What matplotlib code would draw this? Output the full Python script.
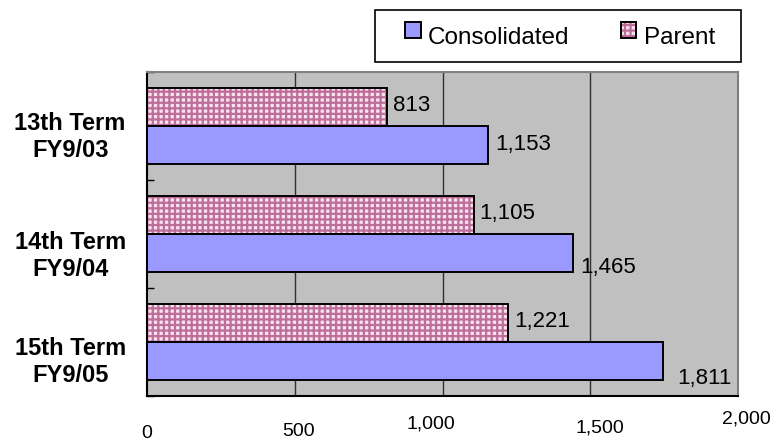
import numpy as np
import matplotlib
matplotlib.use("Agg")
import matplotlib.pyplot as plt
from matplotlib.patches import Rectangle
from matplotlib.legend_handler import HandlerPatch
from matplotlib.transforms import ScaledTranslation, blended_transform_factory

plt.rcParams['font.family'] = ['Liberation Sans', 'DejaVu Sans']
plt.rcParams['hatch.linewidth'] = 1.6

# data
categories = ["13th Term\nFY9/03", "14th Term\nFY9/04", "15th Term\nFY9/05"]
consolidated = [1153, 1440, 1746]
parent = [813, 1105, 1221]
consolidated_labels = ["1,153", "1,465", "1,811"]
parent_labels = ["813", "1,105", "1,221"]
x_ticks = [0, 500, 1000, 1500, 2000]
x_tick_labels = ["0", "500", "1,000", "1,500", "2,000"]

W, H = 773, 443
fig = plt.figure(figsize=(W / 100, H / 100), dpi=100)
ax = fig.add_axes([147 / W, 1 - 396 / H, (738 - 147) / W, (396 - 72) / H])
ax.set_facecolor('#c0c0c0')

y = np.arange(len(categories))
h = 0.35
bars_p = ax.barh(y - h / 2, parent, h, color='#f8e2f0', edgecolor='black',
                 hatch='+++', linewidth=1.4, label='Parent', zorder=3)
for b in bars_p:
    b._hatch_color = matplotlib.colors.to_rgba('#bd6e99')
bars_c = ax.barh(y + h / 2, consolidated, h, color='#9999ff', edgecolor='black',
                 linewidth=1.4, label='Consolidated', zorder=3)

ax.set_xlim(0, 2000)
ax.set_ylim(len(categories) - 0.5, -0.5)

# gridlines
for gx in x_ticks[1:-1]:
    ax.axvline(gx, color='#303030', lw=1.0, zorder=1)

# spines
for s in ['left', 'bottom']:
    ax.spines[s].set_color('black')
    ax.spines[s].set_linewidth(1.5)
for s in ['top', 'right']:
    ax.spines[s].set_color('#808080')
    ax.spines[s].set_linewidth(1.5)

# y axis: boundary ticks only, labels drawn as text
ax.set_yticks([])
ax.set_yticks(np.arange(-0.5, len(categories)), minor=True)
ax.tick_params(axis='y', which='minor', direction='in', length=5, width=1, color='black')
trans = blended_transform_factory(ax.transAxes, ax.transData)
cat_dy = [11, 22, 20]
for yi, cat, dy in zip(y, categories, cat_dy):
    ax.text(-0.13, yi, cat, ha='center', va='center', fontsize=17, fontweight='bold',
            linespacing=1.25,
            transform=trans + ScaledTranslation(0, -dy / 100, fig.dpi_scale_trans))

# x axis labels with the odd offsets of the original
ax.set_xticks(x_ticks)
ax.set_xticklabels(x_tick_labels, fontsize=14)
ax.tick_params(axis='x', length=0, pad=21)
offsets = [(0, 0), (4, 2), (-12, 10), (10, 6), (8, 15)]
for lab, (dx, dy) in zip(ax.get_xticklabels(), offsets):
    lab.set_transform(lab.get_transform() + ScaledTranslation(dx / 100, dy / 100, fig.dpi_scale_trans))

# value labels
for b, txt in zip(bars_p, parent_labels):
    ax.annotate(txt, (b.get_width(), b.get_y() + b.get_height() / 2),
                xytext=(6, 2), textcoords='offset pixels', ha='left', va='center', fontsize=16)
c_dy = [0, -15, -18]
c_dx = [8, 8, 14]
for b, txt, dx, dy in zip(bars_c, consolidated_labels, c_dx, c_dy):
    ax.annotate(txt, (b.get_width(), b.get_y() + b.get_height() / 2),
                xytext=(dx, dy), textcoords='offset pixels', ha='left', va='center', fontsize=16)


# legend: patches sit a little above the text like the original
def raised_patch(legend, orig_handle, xdescent, ydescent, width, height, fontsize):
    return Rectangle((-xdescent, -ydescent + 4), width, height)


fig.patches.append(Rectangle((375 / W, 1 - 62 / H), 366 / W, 52 / H, transform=fig.transFigure,
                             facecolor='white', edgecolor='black', lw=1.2, zorder=0))
fig.legend(handles=[bars_c[0], bars_p[0]], labels=['Consolidated', 'Parent'], ncol=2,
           loc='center', bbox_to_anchor=(560 / W, 1 - 38 / H), frameon=False,
           fontsize=17.5, handlelength=0.65, handleheight=0.65, handletextpad=0.3,
           columnspacing=2.1, handler_map={Rectangle: HandlerPatch(patch_func=raised_patch)})

fig.savefig('out.png', dpi=100)
